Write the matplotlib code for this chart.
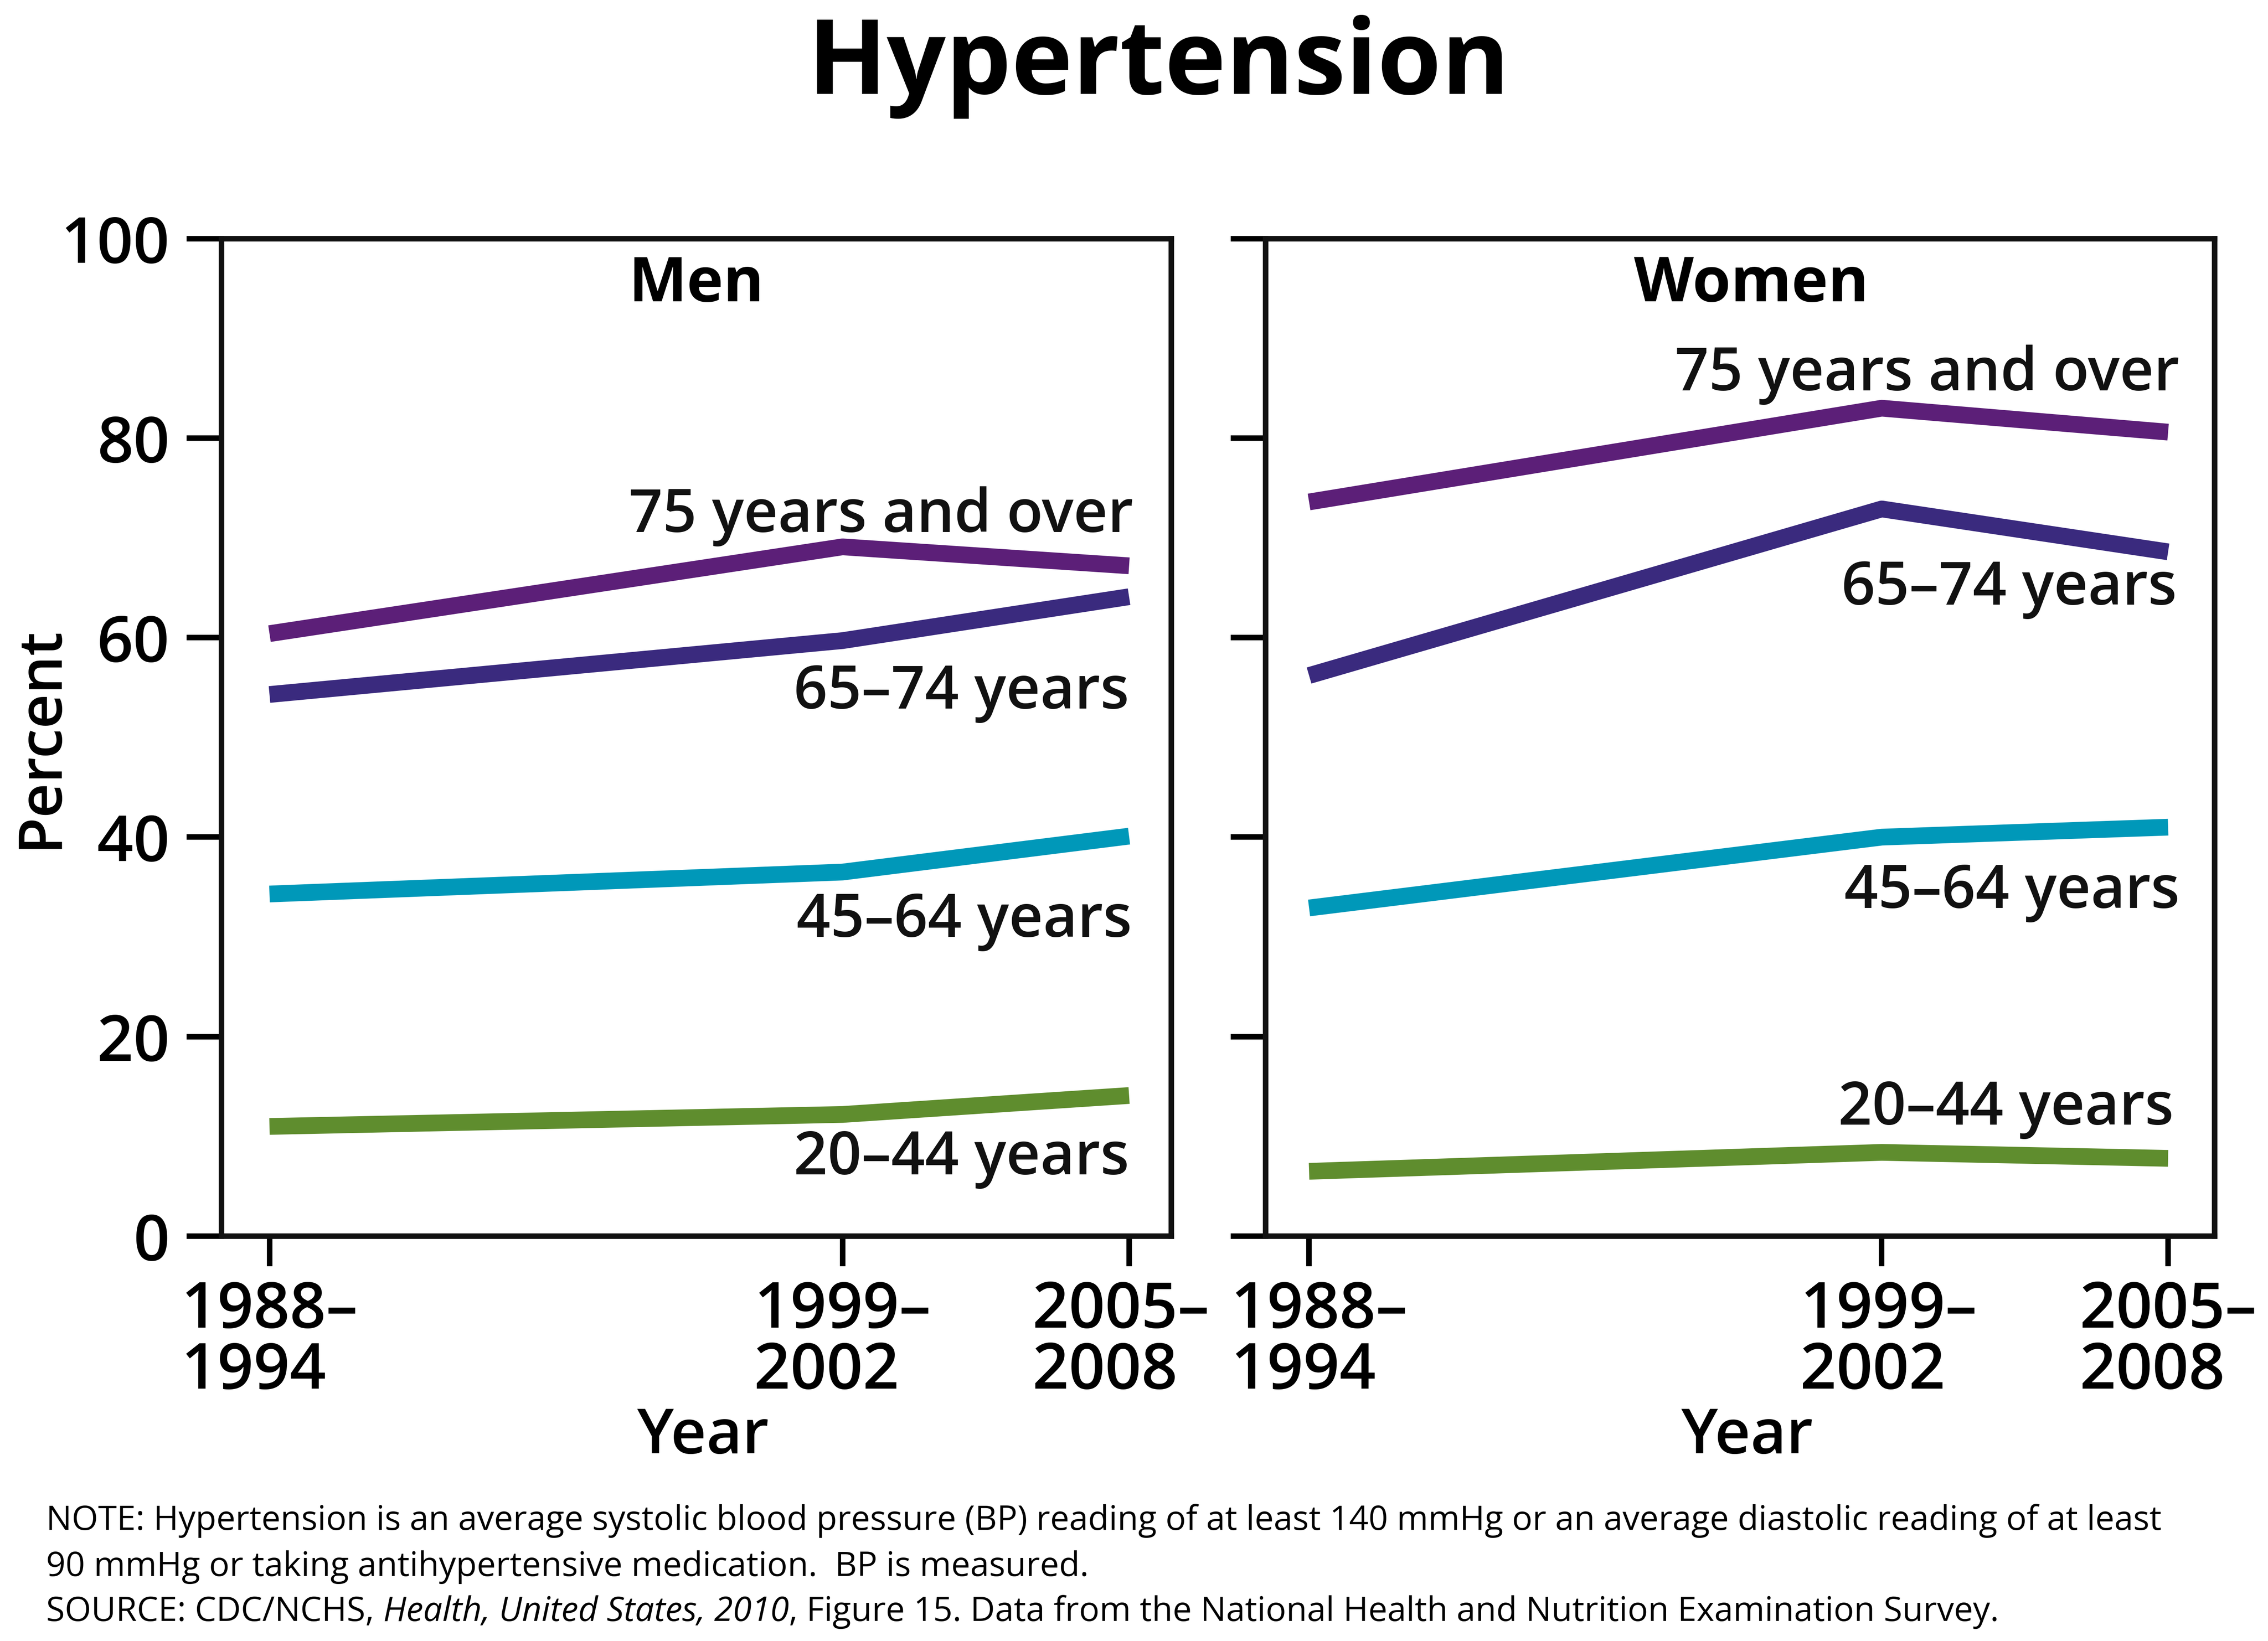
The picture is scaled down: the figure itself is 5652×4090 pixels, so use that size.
import matplotlib
matplotlib.use("Agg")
import matplotlib.pyplot as plt
import matplotlib.transforms as mtransforms

# Datos (porcentaje con hipertensión)
periods = ["1988–\n1994", "1999–\n2002", "2005–\n2008"]
age_groups = ["75 years and over", "65–74 years", "45–64 years", "20–44 years"]

men_75_over = [60.4, 69.1, 67.2]
men_65_74 = [54.3, 59.7, 64.1]
men_45_64 = [34.3, 36.5, 40.1]
men_20_44 = [11.0, 12.2, 14.1]

women_75_over = [73.6, 83.0, 80.6]
women_65_74 = [56.2, 72.9, 68.6]
women_45_64 = [32.9, 40.0, 41.0]
women_20_44 = [6.5, 8.4, 7.8]

y_ticks = [0, 20, 40, 60, 80, 100]

colors = ["#5c1f78", "#3a2a7e", "#0098b9", "#5f8d2e"]

# posiciones de los periodos en el eje x (espaciado como en el original)
x_pos = [0, 2, 3]

plt.rcParams['font.family'] = ['Open Sans', 'DejaVu Sans']
plt.rcParams['axes.linewidth'] = 3.3

fig = plt.figure(figsize=(5652 / 300, 4090 / 300), dpi=300)
ax_m = fig.add_axes([0.0976, 0.2467, 0.4188, 0.6079])
ax_w = fig.add_axes([0.558, 0.2467, 0.4184, 0.6079])


def style_axes(ax, xlim, show_ylabels, label_shifts):
    ax.set_xlim(*xlim)
    ax.set_ylim(0, 100)
    ax.set_yticks(y_ticks)
    ax.set_xticks(x_pos)
    ax.set_xticklabels(periods, fontsize=38, fontweight='semibold',
                       linespacing=0.95, multialignment='left')
    if show_ylabels:
        ax.set_yticklabels([str(t) for t in y_ticks], fontsize=38,
                           fontweight='semibold')
    else:
        ax.set_yticklabels([])
    ax.tick_params(axis='y', direction='out', length=21, width=3.3, pad=10)
    ax.tick_params(axis='x', direction='out', length=18, width=3.3, pad=8)
    for sp in ax.spines.values():
        sp.set_linewidth(3.3)
        sp.set_color('#111111')
    # pequeño desplazamiento horizontal de las etiquetas (en puntos)
    for lab, dx in zip(ax.get_xticklabels(), label_shifts):
        off = mtransforms.ScaledTranslation(dx / 72, 0, fig.dpi_scale_trans)
        lab.set_transform(lab.get_transform() + off)


def draw_panel(ax, series, label_pos):
    for vals, col in zip(series, colors):
        ax.plot(x_pos, vals, color=col, lw=10, solid_capstyle='butt',
                solid_joinstyle='round')
    for name, (lx, ly) in zip(age_groups, label_pos):
        ax.text(lx, ly, name, ha='right', va='baseline', fontsize=35.5,
                fontweight='semibold', color='#111111')


style_axes(ax_m, (-0.168, 3.147), True, [0, 0, -5])
style_axes(ax_w, (-0.152, 3.162), False, [6, 4, 0])

draw_panel(ax_m, [men_75_over, men_65_74, men_45_64, men_20_44],
           [(3.015, 70.6), (3.0, 52.9), (3.01, 30.0), (3.0, 6.2)])
draw_panel(ax_w, [women_75_over, women_65_74, women_45_64, women_20_44],
           [(3.04, 84.8), (3.03, 63.3), (3.04, 32.9), (3.02, 11.2)])

ax_m.text(0.5, 0.937, "Men", transform=ax_m.transAxes, ha='center',
          va='baseline', fontsize=37, fontweight='bold')
ax_w.text(0.512, 0.937, "Women", transform=ax_w.transAxes, ha='center',
          va='baseline', fontsize=37, fontweight='bold')

fig.text(0.511, 0.9427, "Hypertension", ha='center', va='baseline',
         fontsize=62, fontweight='bold')
fig.text(0.018, 0.5507, "Percent", rotation=90, ha='center', va='center',
         fontsize=36, fontweight='semibold')
fig.text(0.310, 0.1145, "Year", ha='center', va='baseline', fontsize=37,
         fontweight='semibold')
fig.text(0.7704, 0.1145, "Year", ha='center', va='baseline', fontsize=37,
         fontweight='semibold')

# Nota y fuente
note_size = 20.3
fig.text(0.0204, 0.0678,
         "NOTE: Hypertension is an average systolic blood pressure (BP) reading "
         "of at least 140 mmHg or an average diastolic reading of at least",
         ha='left', va='baseline', fontsize=note_size)
fig.text(0.0204, 0.0396,
         "90 mmHg or taking antihypertensive medication.  BP is measured.",
         ha='left', va='baseline', fontsize=note_size)

# la línea SOURCE mezcla texto normal e itálico: se coloca por trozos
pieces = [("SOURCE: CDC/NCHS,", 'normal'),
          (" Health, United States, 2010", 'italic'),
          (", Figure 15. Data from the National Health and Nutrition "
           "Examination Survey.", 'normal')]
renderer = fig.canvas.get_renderer()
x = 0.0204
for txt, st in pieces:
    t = fig.text(x, 0.0123, txt, ha='left', va='baseline',
                 fontsize=note_size, style=st)
    bb = t.get_window_extent(renderer=renderer)
    x = bb.x1 / fig.bbox.width

fig.savefig("out.png", dpi=300, facecolor='white')
